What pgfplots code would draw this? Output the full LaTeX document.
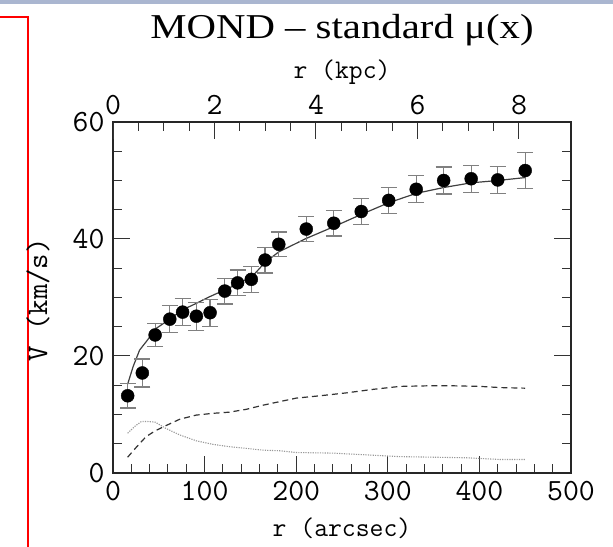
\documentclass[border=0pt]{standalone}
\usepackage{fontspec}
\setmainfont{Liberation Serif}
\usepackage{graphicx}
\usepackage{pgfplots}
\usepackage{pgfplotstable}
\pgfplotsset{compat=1.18}

% observed rotation curve: r (arcsec), V (km/s), error
\pgfplotstableread{
r v e
16 13.2 2.1
32 17.1 2.4
46 23.6 2.0
62 26.3 2.3
76 27.5 2.3
91 26.8 2.4
106 27.4 2.3
122 31.1 2.2
136 32.5 2.2
151 33.1 2.2
166 36.4 2.2
181 39.1 2.1
211 41.7 2.1
241 42.7 2.2
271 44.7 2.2
301 46.6 2.2
331 48.5 2.3
361 50.0 2.3
391 50.3 2.3
420 50.1 2.3
450 51.7 3.1
}\obsdata

% MOND fit
\pgfplotstableread{
r v
16 15.2
22 18.2
29 21.0
36 22.4
47 24.7
62 26.3
76 27.9
91 29.0
105 30.1
122 31.3
136 32.3
152 33.6
166 36.0
181 37.8
211 40.1
241 42.1
271 44.2
301 46.2
331 47.8
361 48.8
391 49.6
420 50.0
450 50.5
}\fitdata

% gas
\pgfplotstableread{
r v
16 2.7
26 4.5
36 6.2
46 7.2
55 7.9
73 9.2
91 9.9
109 10.2
127 10.4
146 10.9
164 11.6
182 12.2
200 12.8
226 13.2
255 13.7
284 14.3
313 14.8
343 14.9
372 14.9
401 14.8
423 14.6
450 14.5
}\gasdata

% stars
\pgfplotstableread{
r v
16 6.8
24 8.0
31 8.8
38 8.8
46 8.7
58 7.6
73 6.5
91 5.5
109 4.9
127 4.5
146 4.2
164 3.9
182 3.8
200 3.5
240 3.4
277 3.1
313 2.8
350 2.7
386 2.6
423 2.3
450 2.3
}\stardata

\begin{document}
\begin{tikzpicture}
\path[use as bounding box] (0,0) rectangle (613bp,547bp);
% screenshot frame
\fill[fill={rgb,255:red,170;green,182;blue,208}] (0,543bp) rectangle (613bp,547bp);
\draw[red, line width=2bp] (0,529.5bp) -- (27.5bp,529.5bp) -- (27.5bp,0);

\pgfplotsset{
  common/.style={
    at={(113bp,74bp)}, anchor=south west,
    scale only axis, width=458bp, height=351bp,
    ymin=0, ymax=60,
    tick align=inside,
    major tick length=17bp, minor tick length=9bp,
    tick style={black!80, line width=1bp},
    axis line style={black!85, line width=1.3bp},
    tick label style={font=\fontsize{31}{31}\selectfont\ttfamily},
    label style={font=\fontsize{27}{27}\selectfont\ttfamily},
    /pgf/number format/assume math mode=true,
  }
}

\begin{axis}[
  common,
  xmin=0, xmax=500,
  xtick={0,100,...,500}, minor x tick num=4,
  ytick={0,20,40,60}, minor y tick num=3,
  xtick pos=lower, ytick pos=both, yticklabel pos=left,
  xticklabel style={yshift=-5bp},
  yticklabel style={xshift=-5bp},
  xlabel={r (arcsec)},
  ylabel={V (km/s)},
  xlabel style={at={(axis description cs:0.5,-0.157)}, anchor=center},
  ylabel style={at={(axis description cs:-0.164,0.493)}, anchor=center,
    font=\fontsize{30}{30}\selectfont\ttfamily},
  title={\scalebox{1.17}[1]{\fontsize{35}{35}\selectfont MOND – standard μ(x)}},
  title style={at={(axis description cs:0.5,1.245)}, anchor=center},
]
\addplot[gray!80, line width=1.1bp, dash pattern=on 1.2bp off 1.2bp] table[x=r,y=v]{\stardata};
\addplot[black!80, line width=1.2bp, dash pattern=on 6bp off 4bp] table[x=r,y=v]{\gasdata};
\addplot[black!75, line width=1.2bp] table[x=r,y=v]{\fitdata};
\addplot[only marks, mark=*, mark size=6.5bp, black,
  error bars/.cd, y dir=both, y explicit,
  error bar style={gray, line width=1.2bp},
  error mark options={gray, line width=1.2bp, mark size=8bp, rotate=90}]
  table[x=r,y=v,y error=e]{\obsdata};
\end{axis}

\begin{axis}[
  common,
  xmin=0, xmax=9.025,
  axis x line*=top, hide y axis,
  xtick={0,2,4,6,8}, minor x tick num=3,
  xticklabel style={yshift=4bp},
  xlabel={r (kpc)},
  xlabel style={at={(axis description cs:0.5,1.142)}, anchor=center},
]
\end{axis}
\end{tikzpicture}
\end{document}
